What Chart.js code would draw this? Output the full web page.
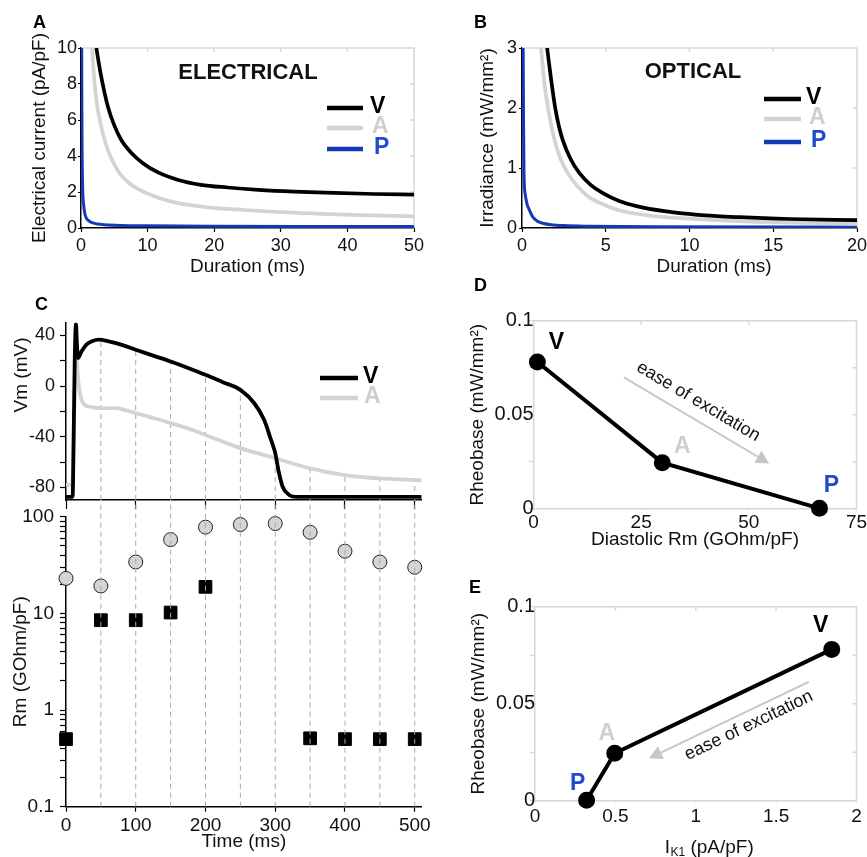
<!DOCTYPE html>
<html>
<head>
<meta charset="utf-8">
<title>Excitability of V, A and P cells</title>
<script src="https://cdn.jsdelivr.net/npm/chart.js@4/dist/chart.umd.min.js"></script>
<style>
  body { margin: 0; background: #ffffff; }
  #fig { position: relative; width: 867px; height: 857px; overflow: hidden; background: #fff; }
  #fig canvas { position: absolute; }
  .panel { position: absolute; font: bold 18px "Liberation Sans", Arial, sans-serif; line-height: 18px; color: #000; }
</style>
</head>
<body>
<div id="fig">
  <canvas id="chartA"></canvas>
  <canvas id="chartB"></canvas>
  <canvas id="chartC1"></canvas>
  <canvas id="chartC2"></canvas>
  <canvas id="chartD"></canvas>
  <canvas id="chartE"></canvas>
  <div class="panel" style="left:33px;top:13px">A</div>
  <div class="panel" style="left:474px;top:13px">B</div>
  <div class="panel" style="left:35px;top:295px">C</div>
  <div class="panel" style="left:474px;top:276px">D</div>
  <div class="panel" style="left:469px;top:578px">E</div>
</div>
<script>
// cell types, in the order used everywhere below
const cellTypes = ['V', 'A', 'P'];

// A: strength-duration, electrical stimulus
const elecTimeV = [2.3, 2.95, 4.05, 5, 6.05, 7.5, 9.3, 11.5, 14.6, 18, 22, 26.6, 32, 38, 44, 50];
const elecCurrV = [10, 8.58, 6.73, 5.7, 4.89, 4.2, 3.6, 3.1, 2.67, 2.4, 2.25, 2.12, 2.02, 1.95, 1.89, 1.85];
const elecTimeA = [1.65, 2.0, 2.45, 3.0, 3.55, 4.5, 5.8, 7.2, 8.8, 11.5, 14.6, 19, 24.6, 30, 36, 42, 50];
const elecCurrA = [10, 8.2, 6.73, 5.7, 4.89, 3.9, 3.04, 2.5, 2.12, 1.7, 1.38, 1.15, 1.0, 0.88, 0.79, 0.71, 0.65];
const elecTimeP = [0.1, 0.15, 0.25, 0.4, 0.55, 0.8, 1.1, 1.55, 2.5, 3.5, 6, 10, 20, 35, 50];
const elecCurrP = [10, 5, 2.2, 1.3, 0.85, 0.55, 0.42, 0.31, 0.22, 0.18, 0.14, 0.12, 0.1, 0.09, 0.09];
const elecTimeTicks = [0, 10, 20, 30, 40, 50];
const elecCurrTicks = [0, 2, 4, 6, 8, 10];

// B: strength-duration, optical stimulus
const optTimeV = [1.5, 1.75, 1.97, 2.2, 2.43, 2.9, 3.43, 4.1, 4.83, 5.8, 6.9, 8.5, 10.5, 13, 16, 20];
const optIrrV = [3, 2.45, 2.02, 1.7, 1.47, 1.15, 0.915, 0.72, 0.58, 0.45, 0.36, 0.28, 0.22, 0.18, 0.15, 0.13];
const optTimeA = [1.14, 1.3, 1.54, 1.74, 1.94, 2.3, 2.73, 3.3, 3.93, 4.8, 5.73, 7.5, 9.7, 12.5, 16, 20];
const optIrrA = [3, 2.5, 2.02, 1.72, 1.47, 1.15, 0.915, 0.7, 0.53, 0.4, 0.30, 0.21, 0.16, 0.12, 0.09, 0.07];
const optTimeP = [0.07, 0.09, 0.12, 0.2, 0.3, 0.44, 0.65, 0.94, 1.3, 1.73, 2.5, 4, 8, 20];
const optIrrP = [3, 1.8, 0.9, 0.55, 0.4, 0.3, 0.18, 0.11, 0.075, 0.055, 0.04, 0.03, 0.02, 0.015];
const optTimeTicks = [0, 5, 10, 15, 20];
const optIrrTicks = [0, 1, 2, 3];

// C top: action potentials
const apTimeV = [0, 9.5, 11, 12.5, 14.3, 15.5, 17.2, 22, 30, 38, 46.8, 60, 80, 100, 125, 150, 175, 200, 225, 250, 270, 284, 294, 300, 305, 310.6, 320, 330, 360, 420, 510];
const apVmV = [-87.5, -87.5, -40, 20, 49, 35, 22, 27, 33, 35.5, 36.6, 35.5, 32.5, 28.7, 24, 19.4, 14.3, 8.9, 3, -3, -13.6, -26.7, -42.6, -53, -67.7, -79.5, -86, -87.5, -87.5, -87.5, -87.5];
const apTimeA = [0, 9, 11, 12.5, 14.8, 17, 19, 22.9, 27, 32.5, 40, 55, 70.7, 85, 99.4, 120, 142, 175, 200, 250, 300, 350, 400, 450, 500, 510];
const apVmA = [-78, -78, -40, 0, 22, 8, -3, -12, -15, -16.2, -17, -17.4, -17.4, -19, -21.3, -24.5, -27.9, -33.5, -38.6, -49, -57, -65, -70.3, -73, -74.2, -74.5];
const sampleTimes = [50, 100, 150, 200, 250, 300, 350, 400, 450, 500];
const sampleTopVm = [36.5, 28.7, 19.4, 8.9, -3, -53, -65, -70.3, -73, -74.2];
const vmTicks = [-80, -60, -40, -20, 0, 20, 40];
const vmLabels = ['-80', '', '-40', '', '0', '', '40'];
const timeTicks = [0, 100, 200, 300, 400, 500];

// C bottom: membrane resistance during the AP
const rmTimes = [0, 50, 100, 150, 200, 250, 300, 350, 400, 450, 500];
const rmA = [23, 19.2, 34, 58, 78, 83, 85, 69, 44, 34, 30];
const rmV = [0.5, 8.5, 8.5, 10.2, 18.8, null, null, 0.51, 0.5, 0.5, 0.5];
const rmDecades = [0.1, 1, 10, 100];

// D, E: rheobase vs diastolic Rm and vs IK1
const rheobase = [0.078, 0.0245, 0.0002];
const diastolicRm = [0.9, 29.9, 66.4];
const ik1 = [1.846, 0.496, 0.321];
const rheoTicks = [0, 0.025, 0.05, 0.075, 0.1];
const rheoLabels = ['0', '', '0.05', '', '0.1'];
const rmDiaTicks = [0, 25, 50, 75];
const ik1Ticks = [0, 0.5, 1, 1.5, 2];

const FONT = '"Liberation Sans", Arial, Helvetica, sans-serif';
const BLACK = '#000000', GREY = '#d3d3d3', BLUE = '#1538b8', BLUE_TXT = '#1f4ccc';
const FRAME = '#d8d8d8', DASH = '#a8a8a8';
const lineColors = [BLACK, GREY, BLUE];
const textColors = [BLACK, '#cfcfcf', BLUE_TXT];

Chart.defaults.font.family = FONT;
Chart.defaults.color = '#111';

function pts(xs, ys) {
  return xs.map((x, i) => ({ x: x, y: ys[i] }));
}

function curve(xs, ys, color, width) {
  return { data: pts(xs, ys), showLine: true, borderColor: color, borderWidth: width,
    pointRadius: 0, cubicInterpolationMode: 'monotone', fill: false };
}

// vertical dashed sampling lines
function dropLines(xs, from, to) {
  const d = [];
  xs.forEach((x, i) => {
    d.push({ x: x, y: from }, { x: x, y: Array.isArray(to) ? to[i] : to }, { x: x, y: null });
  });
  return { data: d, showLine: true, borderColor: DASH, borderWidth: 1, borderDash: [5, 4],
    pointRadius: 0, spanGaps: false, clip: false };
}

function axis(o) {
  return {
    type: o.type || 'linear',
    min: o.min, max: o.max,
    afterBuildTicks: s => { s.ticks = o.ticks.map(v => ({ value: v })); },
    border: { color: o.border || BLACK, width: 1.5 },
    grid: { drawOnChartArea: false, drawTicks: true, tickLength: o.tickLen,
      tickColor: o.tickColor || o.border || BLACK, tickWidth: 1.2 },
    ticks: { display: !o.noLabels, autoSkip: false, maxRotation: 0, minRotation: 0,
      padding: o.pad, color: '#111', font: { size: o.font },
      callback: (v, i) => o.labels ? o.labels[i] : String(v) },
    title: o.title ? { display: true, text: o.title, color: '#111', font: { size: 19 }, padding: o.titlePad }
                   : { display: false }
  };
}

function fitTo(s, n) {
  if (s.isHorizontal()) s.height = n; else s.width = n;
  s.paddingLeft = s.paddingRight = s.paddingTop = s.paddingBottom = 0;
}

function makeChart(id, box, area, scales, datasets, plugins) {
  const cv = document.getElementById(id);
  cv.width = box.width; cv.height = box.height;
  cv.style.left = box.left + 'px'; cv.style.top = box.top + 'px';
  const xh = box.top + box.height - area.bottom, yw = area.left - box.left;
  scales.x.afterFit = s => fitTo(s, xh);
  scales.y.afterFit = s => fitTo(s, yw);
  return new Chart(cv, {
    type: 'scatter',
    data: { datasets: datasets },
    options: {
      responsive: false, animation: false, devicePixelRatio: 1, events: [],
      layout: { padding: { left: 0, top: area.top - box.top, right: box.left + box.width - area.right, bottom: 0 } },
      plugins: { legend: { display: false }, tooltip: { enabled: false } },
      scales: scales
    },
    plugins: plugins
  });
}

// light top/right frame with inward ticks
function frame(color, tick) {
  return { id: 'frame', beforeDatasetsDraw(chart) {
    const { ctx, chartArea: a, scales: { x, y } } = chart;
    ctx.save();
    ctx.strokeStyle = color; ctx.lineWidth = 1.5;
    ctx.beginPath();
    ctx.moveTo(a.left, a.top); ctx.lineTo(a.right, a.top); ctx.lineTo(a.right, a.bottom);
    x.ticks.forEach(t => {
      const p = x.getPixelForValue(t.value);
      if (p > a.left + 1 && p < a.right - 1) { ctx.moveTo(p, a.top); ctx.lineTo(p, a.top + tick); }
    });
    y.ticks.forEach(t => {
      const p = y.getPixelForValue(t.value);
      if (p > a.top + 1 && p < a.bottom - 1) { ctx.moveTo(a.right, p); ctx.lineTo(a.right - tick, p); }
    });
    ctx.stroke();
    ctx.restore();
  }};
}

// annotations drawn in page coordinates
function notes(box, draw) {
  return { id: 'notes', afterDraw(chart) {
    const ctx = chart.ctx;
    const at = (xv, yv) => [chart.scales.x.getPixelForValue(xv) + box.left, chart.scales.y.getPixelForValue(yv) + box.top];
    ctx.save();
    ctx.translate(-box.left, -box.top);
    draw(ctx, at);
    ctx.restore();
  }};
}

function txt(ctx, s, x, y, o) {
  ctx.save();
  ctx.font = (o.bold ? 'bold ' : '') + o.size + 'px ' + FONT;
  ctx.fillStyle = o.color || '#111';
  ctx.textAlign = o.align || 'center';
  ctx.textBaseline = 'middle';
  ctx.translate(x, y);
  if (o.rot) ctx.rotate(o.rot);
  ctx.fillText(s, 0, 0);
  ctx.restore();
}

function legend(ctx, x1, x2, rows) {
  rows.forEach(r => {
    ctx.save();
    ctx.strokeStyle = lineColors[r.i]; ctx.lineWidth = 4.5; ctx.lineCap = 'butt';
    ctx.beginPath(); ctx.moveTo(x1, r.y); ctx.lineTo(x2, r.y); ctx.stroke();
    ctx.restore();
    txt(ctx, cellTypes[r.i], r.tx, r.y - 1, { bold: true, size: 23, color: textColors[r.i], align: 'left' });
  });
}

function arrowNote(ctx, p0, p1, a, b) {
  // p0 tail, p1 head (page px); text placed a along / b up from the midpoint
  ctx.save();
  ctx.strokeStyle = '#c6c6c6'; ctx.fillStyle = '#c6c6c6'; ctx.lineWidth = 2;
  const dx = p1[0] - p0[0], dy = p1[1] - p0[1], L = Math.hypot(dx, dy);
  const ux = dx / L, uy = dy / L, head = 13, half = 7;
  ctx.beginPath(); ctx.moveTo(p0[0], p0[1]); ctx.lineTo(p1[0] - ux * head, p1[1] - uy * head); ctx.stroke();
  ctx.beginPath();
  ctx.moveTo(p1[0], p1[1]);
  ctx.lineTo(p1[0] - ux * head - uy * half, p1[1] - uy * head + ux * half);
  ctx.lineTo(p1[0] - ux * head + uy * half, p1[1] - uy * head - ux * half);
  ctx.closePath(); ctx.fill();
  ctx.restore();
  const l = p0[0] < p1[0] ? p0 : p1, r = p0[0] < p1[0] ? p1 : p0;
  const th = Math.atan2(r[1] - l[1], r[0] - l[0]);
  const tx = Math.cos(th), ty = Math.sin(th), upx = Math.sin(th), upy = -Math.cos(th);
  const mx = (p0[0] + p1[0]) / 2, my = (p0[1] + p1[1]) / 2;
  txt(ctx, 'ease of excitation', mx + a * tx + b * upx, my + a * ty + b * upy, { size: 18, color: '#111', rot: th });
}

// ---- A: electrical ----
const boxA = { left: 0, top: 30, width: 434, height: 250 };
makeChart('chartA', boxA, { left: 81, top: 48, right: 414, bottom: 228 }, {
  x: axis({ min: 0, max: 50, ticks: elecTimeTicks, font: 18, tickLen: 4, pad: 3.5, title: 'Duration (ms)', titlePad: 1.6 }),
  y: axis({ min: 0, max: 10, ticks: elecCurrTicks, font: 18, tickLen: 3, pad: 1, title: 'Electrical current (pA/pF)', titlePad: 28.6 })
}, [
  curve(elecTimeV, elecCurrV, BLACK, 3.7),
  curve(elecTimeA, elecCurrA, GREY, 3.7),
  curve(elecTimeP, elecCurrP, BLUE, 3)
], [frame(FRAME, 4), notes(boxA, ctx => {
  txt(ctx, 'ELECTRICAL', 248, 72.5, { bold: true, size: 22, color: '#111' });
  legend(ctx, 327, 363, [{ i: 0, y: 108, tx: 370 }, { i: 1, y: 128, tx: 372 }, { i: 2, y: 149, tx: 374 }]);
})]);

// ---- B: optical ----
const boxB = { left: 434, top: 30, width: 433, height: 250 };
makeChart('chartB', boxB, { left: 522, top: 48, right: 857, bottom: 228 }, {
  x: axis({ min: 0, max: 20, ticks: optTimeTicks, font: 18, tickLen: 4, pad: 3.5 }),
  y: axis({ min: 0, max: 3, ticks: optIrrTicks, font: 18, tickLen: 3, pad: 2, title: 'Irradiance (mW/mm\u00B2)', titlePad: 42 })
}, [
  curve(optTimeV, optIrrV, BLACK, 3.7),
  curve(optTimeA, optIrrA, GREY, 3.7),
  curve(optTimeP, optIrrP, BLUE, 3)
], [frame(FRAME, 4), notes(boxB, ctx => {
  txt(ctx, 'OPTICAL', 693, 71.5, { bold: true, size: 22, color: '#111' });
  legend(ctx, 764, 801, [{ i: 0, y: 99, tx: 806 }, { i: 1, y: 119, tx: 809 }, { i: 2, y: 142, tx: 811 }]);
  txt(ctx, 'Duration (ms)', 714, 267, { size: 19, color: '#111' });
})]);

// ---- C top: Vm ----
const boxC1 = { left: 0, top: 300, width: 434, height: 212 };
makeChart('chartC1', boxC1, { left: 66, top: 322.7, right: 421.7, bottom: 500 }, {
  x: axis({ min: 0, max: 510, ticks: timeTicks, noLabels: true, font: 18, tickLen: 9, pad: 0 }),
  y: axis({ min: -90, max: 50, ticks: vmTicks, labels: vmLabels, font: 18, tickLen: 6, pad: 5 })
}, [
  curve(apTimeV, apVmV, BLACK, 3.8),
  curve(apTimeA, apVmA, GREY, 3.8),
  dropLines(sampleTimes, -90, sampleTopVm)
], [notes(boxC1, ctx => {
  txt(ctx, 'Vm (mV)', 21.7, 375, { size: 19, color: '#111', rot: -Math.PI / 2 });
  legend(ctx, 320, 358, [{ i: 0, y: 378, tx: 363 }, { i: 1, y: 398, tx: 364 }]);
})]);

// ---- C bottom: Rm ----
const rmTicks = [];
[0.1, 1, 10].forEach(d => { for (let k = 1; k < 10; k++) rmTicks.push(d * k); });
rmTicks.push(100);
const rmLabels = rmTicks.map(v => {
  const m = rmDecades.find(d => Math.abs(v - d) < d * 1e-6);
  return m === undefined ? '' : String(m);
});
const boxC2 = { left: 0, top: 490, width: 434, height: 367 };
makeChart('chartC2', boxC2, { left: 66, top: 516.7, right: 421.7, bottom: 806.7 }, {
  x: axis({ min: 0, max: 510, ticks: timeTicks, font: 19, tickLen: 5, pad: 2.4, title: 'Time (ms)', titlePad: 3.6 }),
  y: axis({ type: 'logarithmic', min: 0.1, max: 100, ticks: rmTicks, labels: rmLabels, font: 19, tickLen: 6, pad: 6, title: 'Rm (GOhm/pF)', titlePad: 9.4 })
}, [
  dropLines(sampleTimes, 0.1, 150),
  { data: pts(rmTimes, rmV), pointStyle: 'rect', pointRadius: 9, backgroundColor: BLACK, borderColor: BLACK, borderWidth: 1, clip: false },
  { data: pts(rmTimes, rmA), pointStyle: 'circle', pointRadius: 7, backgroundColor: '#d4d4d4', borderColor: '#222', borderWidth: 1, clip: false }
], []);

// ---- D: rheobase vs diastolic Rm ----
const boxD = { left: 434, top: 300, width: 433, height: 260 };
const dotLine = xs => ({ data: pts(xs, rheobase), showLine: true, borderColor: BLACK, borderWidth: 4,
  pointRadius: 6.5, backgroundColor: BLACK, pointBackgroundColor: BLACK, pointBorderColor: BLACK, clip: false });
makeChart('chartD', boxD, { left: 533.5, top: 320.7, right: 859, bottom: 508.7 }, {
  x: axis({ min: 0, max: 75, ticks: rmDiaTicks, font: 19, border: FRAME, tickColor: FRAME, tickLen: 2, pad: 0.5, title: 'Diastolic Rm (GOhm/pF)', titlePad: 8.6 }),
  y: axis({ min: 0, max: 0.1, ticks: rheoTicks, labels: rheoLabels, font: 20, border: FRAME, tickColor: FRAME, tickLen: 5, pad: -5, title: 'Rheobase (mW/mm\u00B2)', titlePad: 32.6 })
}, [dotLine(diastolicRm)], [frame(FRAME, 4), notes(boxD, (ctx, at) => {
  const offs = [[19, -19], [20, -16], [12, -23]];
  cellTypes.forEach((c, i) => {
    const p = at(diastolicRm[i], rheobase[i]);
    txt(ctx, c, p[0] + offs[i][0], p[1] + offs[i][1], { bold: true, size: 23, color: textColors[i] });
  });
  arrowNote(ctx, at(21.0, 0.0699), at(54.7, 0.0241), -8, 17);
})]);

// ---- E: rheobase vs IK1 ----
const boxE = { left: 434, top: 585, width: 433, height: 272 };
makeChart('chartE', boxE, { left: 535, top: 606.7, right: 860.7, bottom: 800.7 }, {
  x: axis({ min: 0, max: 2, ticks: ik1Ticks, font: 19, border: FRAME, tickColor: FRAME, tickLen: 2, pad: 2.6 }),
  y: axis({ min: 0, max: 0.1, ticks: rheoTicks, labels: rheoLabels, font: 20, border: FRAME, tickColor: FRAME, tickLen: 5, pad: -5, title: 'Rheobase (mW/mm\u00B2)', titlePad: 33.6 })
}, [dotLine(ik1)], [frame(FRAME, 4), notes(boxE, (ctx, at) => {
  const offs = [[-11, -24], [-8, -20], [-9, -17]];
  cellTypes.forEach((c, i) => {
    const p = at(ik1[i], rheobase[i]);
    txt(ctx, c, p[0] + offs[i][0], p[1] + offs[i][1], { bold: true, size: 23, color: textColors[i] });
  });
  arrowNote(ctx, at(1.703, 0.0613), at(0.710, 0.0219), 15.5, -13.6);
  // x title with subscript: I_K1 (pA/pF)
  ctx.save();
  ctx.fillStyle = '#111'; ctx.textBaseline = 'alphabetic'; ctx.textAlign = 'left';
  ctx.font = '19px ' + FONT;
  const w1 = ctx.measureText('I').width, w3 = ctx.measureText(' (pA/pF)').width;
  ctx.font = '12px ' + FONT;
  const w2 = ctx.measureText('K1').width;
  let x = 709 - (w1 + w2 + w3) / 2;
  const base = 852.5;
  ctx.font = '19px ' + FONT; ctx.fillText('I', x, base); x += w1 + 0.5;
  ctx.font = '12px ' + FONT; ctx.fillText('K1', x, base + 3.5); x += w2;
  ctx.font = '19px ' + FONT; ctx.fillText(' (pA/pF)', x, base);
  ctx.restore();
})]);
</script>
</body>
</html>
